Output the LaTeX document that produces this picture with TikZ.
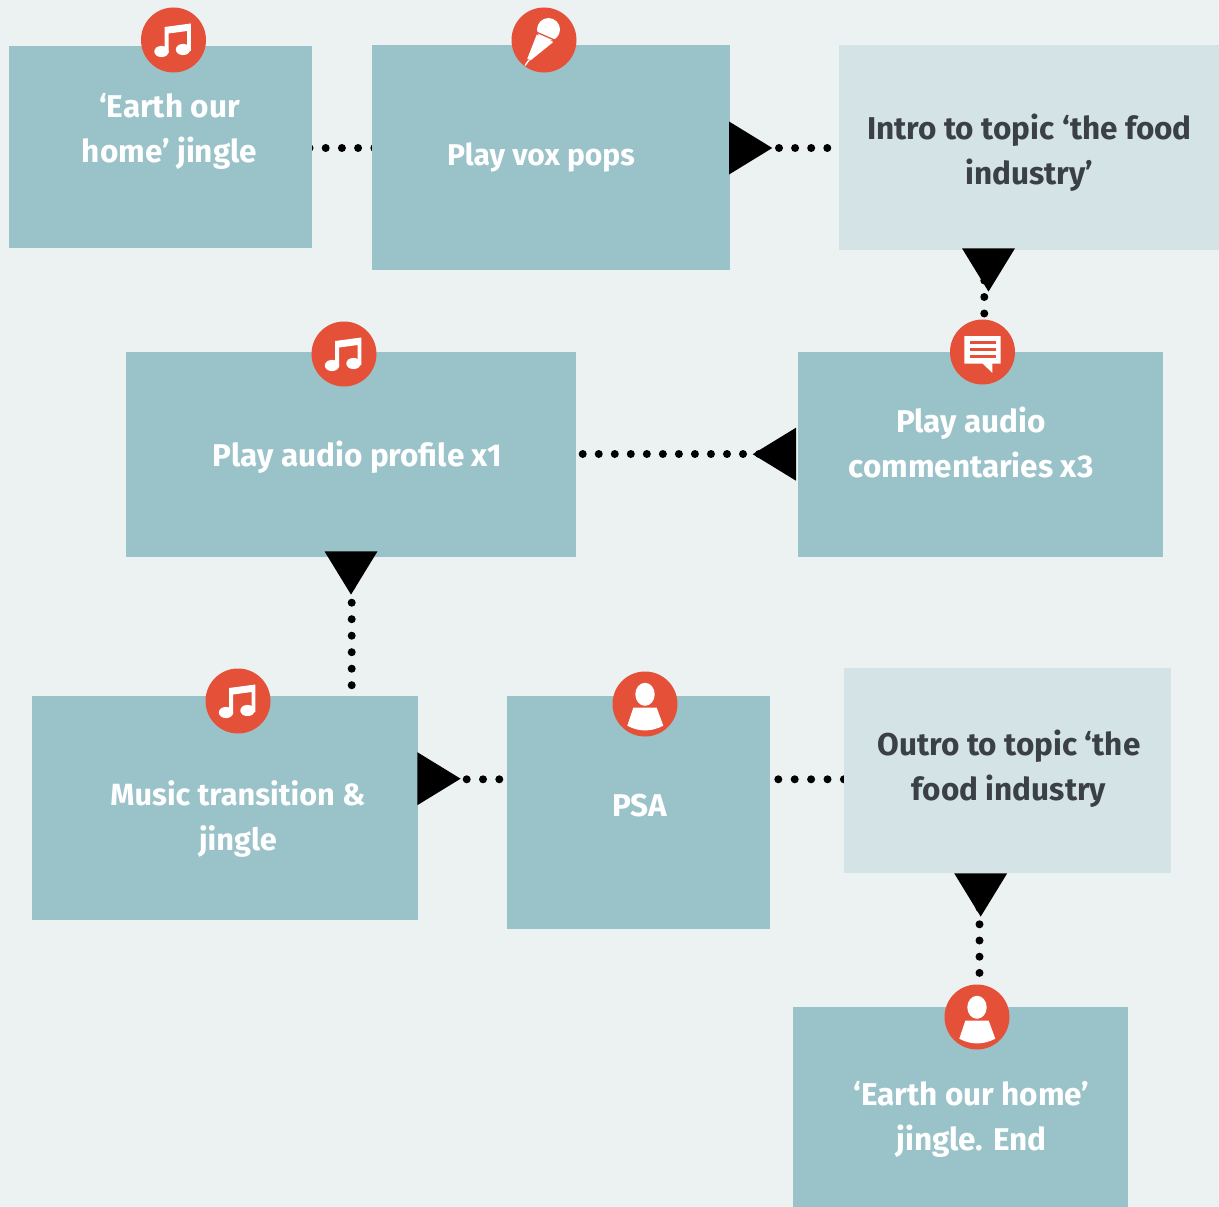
\documentclass[tikz,border=0pt]{standalone}
\usepackage{fontspec}
\setmainfont{Fira Sans}
\usetikzlibrary{calc}
\pgfdeclarelayer{back}
\pgfsetlayers{back,main}
\definecolor{bgc}{HTML}{ECF2F2}
\definecolor{tealbox}{HTML}{9AC3C9}
\definecolor{lightbox}{HTML}{D4E3E6}
\definecolor{redc}{HTML}{E55039}
\definecolor{darktxt}{HTML}{3A4043}
\tikzset{
  x=1pt,y=-1pt,
  boxbase/.style={inner sep=0pt,outer sep=0pt,draw=none},
  tealb/.style={boxbase,fill=tealbox},
  lightb/.style={boxbase,fill=lightbox},
  lab/.style={align=center,font=\fontsize{31.5}{45}\selectfont\bfseries,text=white,inner sep=0pt},
  labdark/.style={lab,text=darktxt},
  badge/.style={circle,fill=redc,minimum size=65pt,inner sep=0pt,outer sep=0pt},
  dotline/.style 2 args={line width=8pt,line cap=round,dash pattern=on 0pt off #1pt,dash phase=#2pt},
  head/.pic={\fill[black] (0,-26.5) -- (0,26.5) -- (43.3,0) -- cycle;},
  music/.pic={
    \fill[white] (-8.8,-13) -- (17.3,-16.5) -- (17.3,11) -- (13.6,11) -- (13.6,-9) -- (-5,-6.5) -- (-5,13) -- (-8.8,13) -- cycle;
    \fill[white] (-12,11.5) ellipse [x radius=7.2,y radius=5.6];
    \fill[white] (9.5,9.5) ellipse [x radius=7.2,y radius=5.6];
  },
  mic/.pic={
    \fill[white] (4.5,-10.5) circle [radius=11.5];
    \draw[redc,line width=1.3pt] (-8,-8) -- (15,2);
    \fill[white] (-7.3,-5.3) -- (9.3,2) -- (-13.3,20.3) -- (-16.7,18.7) -- cycle;
    \draw[white,line width=1.4pt] (-15,20) -- (-19,25.5);
  },
  comment/.pic={
    \fill[white] (-18.2,-15.8) -- (18.2,-15.8) -- (18.2,11.5) -- (9.8,11.5) -- (9.8,20.8) -- (0,11.5) -- (-18.2,11.5) -- cycle;
    \foreach \yy in {-9.2,-2.2,4.8}{\fill[redc] (-12.5,\yy-1.5) rectangle (13.5,\yy+1.5);}
  },
  person/.pic={
    \fill[white] (0,-9.7) ellipse [x radius=9.7,y radius=11.5];
    \fill[white] (-11.7,3.7) -- (11.7,3.7) -- (18.3,21.7) .. controls (6,28) and (-6,28) .. (-17.7,21.7) -- cycle;
  },
}
\newcommand{\mybox}[6]{\node[#6,minimum width={(#4-#2)*1pt},minimum height={(#5-#3)*1pt}] (#1) at ({(#2+#4)/2},{(#3+#5)/2}) {};}
\begin{document}
\begin{tikzpicture}
\useasboundingbox (0,0) rectangle (1219,1207);
\begin{pgfonlayer}{back}
\fill[bgc] (0,0) rectangle (1219,1207);
\end{pgfonlayer}
\mybox{n1}{9}{46}{312}{248}{tealb}
\mybox{n2}{372}{45}{730}{270}{tealb}
\mybox{n3}{839}{45}{1219}{250}{lightb}
\mybox{n4}{798}{352}{1163}{557}{tealb}
\mybox{n5}{126}{352}{576}{557}{tealb}
\mybox{n6}{32}{696}{418}{920}{tealb}
\mybox{n7}{507}{696}{770}{929}{tealb}
\mybox{n8}{844}{668}{1171}{873}{lightb}
\mybox{n9}{793}{1007}{1128}{1207}{tealb}
\node[lab] (t1) at (169.5,131) {‘Earth our\\home’ jingle};
\node[lab,font=\fontsize{30}{45}\selectfont\bfseries] (t2) at (541,157) {Play vox pops};
\node[labdark] (t3) at (1029.5,153) {Intro to topic ‘the food\\industry’};
\node[lab] (t4) at (971,442.5) {Play audio\\commentaries x3};
\node[lab] (t5) at (357.5,457) {Play audio profile x1};
\node[lab,font=\fontsize{30.7}{45}\selectfont\bfseries] (t6) at (238,819) {Music transition \&\\jingle};
\node[lab] (t7) at (639.5,806) {PSA};
\node[labdark] (t8) at (1009,769) {Outro to topic ‘the\\food industry};
\node[lab] (t9) at (971.5,1119) {‘Earth our home’\\jingle. End};
\coordinate (ya) at (0,148);
\coordinate (yb) at (0,454);
\coordinate (yc) at (0,779.3);
\coordinate (xa) at (984.3,0);
\coordinate (xb) at (351.7,0);
\coordinate (xc) at (979.5,0);
\node[badge] (c1) at (173.5,40) {};
\node[badge] (c2) at (544,40) {};
\node[badge] (c4) at (982.5,352) {};
\node[badge] (c5) at (344,354) {};
\node[badge] (c6) at (238,701) {};
\node[badge] (c7) at (645,704) {};
\node[badge] (c9) at (977,1017) {};
\begin{pgfonlayer}{back}
\draw[dotline={16.2}{13}] (n1.center |- ya) -- (n2.center |- ya);
\draw[dotline={16.4}{7.8}] (n7.center |- yc) -- (n8.center |- yc);
\end{pgfonlayer}
\draw[dotline={16.1}{7.3}] ([xshift=8pt]n2.east |- ya) -- (n3.west |- ya);
\draw[dotline={16.5}{2.5}] (xa |- n3.south) -- (xa |- c4.north);
\draw[dotline={16.03}{9.13}] (n4.west |- yb) -- (n5.east |- yb);
\draw[dotline={16.5}{3.8}] (xb |- n5.south) -- (xb |- n6.north);
\draw[dotline={16.3}{0.2}] (n6.east |- yc) -- (n7.west |- yc);
\draw[dotline={16.2}{5.3}] ([yshift=-8pt]xc |- n8.south) -- (xc |- c9.north);
\pic at (729,148) {head};
\pic[rotate=-90] at (988.5,248.3) {head};
\pic[rotate=180] at (796,454.2) {head};
\pic[rotate=-90] at (351,551.3) {head};
\pic at (417.3,778.7) {head};
\pic[rotate=-90] at (980.7,873.3) {head};
\pic at (c1) {music};
\pic at (c2) {mic};
\pic at (c4) {comment};
\pic at (c5) {music};
\pic at (c6) {music};
\pic at (c7) {person};
\pic at (c9) {person};
\end{tikzpicture}
\end{document}
